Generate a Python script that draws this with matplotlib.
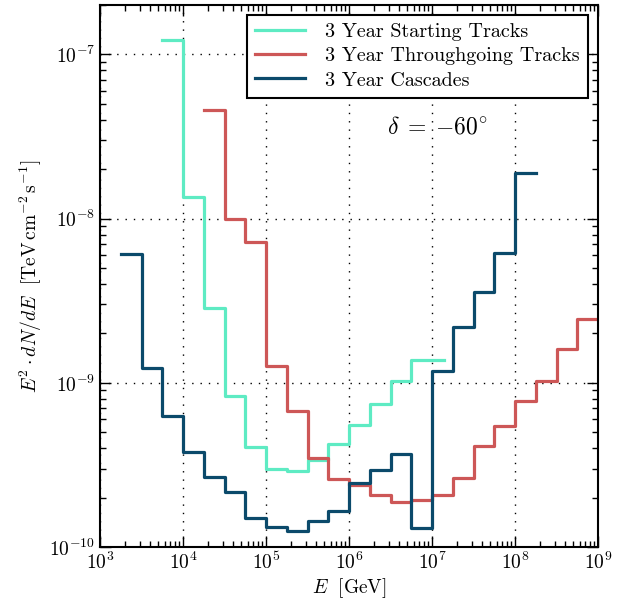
import matplotlib
matplotlib.use('Agg')
import matplotlib.pyplot as plt
import numpy as np

plt.rcParams['font.family'] = ['cmr10', 'DejaVu Serif']
plt.rcParams['mathtext.fontset'] = 'cm'
plt.rcParams['axes.formatter.use_mathtext'] = True

# bin edges (log10 GeV) and E^2 dN/dE values
start_edges = [3.75, 4.0, 4.25, 4.5, 4.75, 5.0, 5.25, 5.5, 5.75, 6.0, 6.25, 6.5, 6.75, 7.14]
start_vals = [1.22e-7, 1.35e-8, 2.87e-9, 8.3e-10, 4.09e-10, 2.98e-10, 2.90e-10,
              3.39e-10, 4.23e-10, 5.5e-10, 7.44e-10, 1.02e-9, 1.38e-9]

thru_edges = [4.25, 4.5, 4.75, 5.0, 5.25, 5.5, 5.75, 6.0, 6.25, 6.5, 6.75, 7.0,
              7.25, 7.5, 7.75, 8.0, 8.25, 8.5, 8.75, 9.0]
thru_vals = [4.58e-8, 9.94e-9, 7.18e-9, 1.27e-9, 6.75e-10, 3.46e-10, 2.59e-10,
             2.39e-10, 2.08e-10, 1.87e-10, 1.94e-10, 2.08e-10, 2.62e-10, 4.15e-10,
             5.47e-10, 7.8e-10, 1.03e-9, 1.61e-9, 2.44e-9]

casc_edges = [3.25, 3.5, 3.75, 4.0, 4.25, 4.5, 4.75, 5.0, 5.25, 5.5, 5.75, 6.0,
              6.25, 6.5, 6.75, 7.0, 7.25, 7.5, 7.75, 8.0, 8.25]
casc_vals = [6.07e-9, 1.23e-9, 6.31e-10, 3.81e-10, 2.66e-10, 2.15e-10, 1.50e-10,
             1.32e-10, 1.26e-10, 1.43e-10, 1.66e-10, 2.45e-10, 2.95e-10, 3.69e-10,
             1.30e-10, 1.18e-9, 2.2e-9, 3.56e-9, 6.15e-9, 1.90e-8]

series = [
    ('3 Year Starting Tracks', start_edges, start_vals, '#5eebc3'),
    ('3 Year Throughgoing Tracks', thru_edges, thru_vals, '#cd5757'),
    ('3 Year Cascades', casc_edges, casc_vals, '#0b4a6b'),
]

fig = plt.figure(figsize=(6.26, 6.03), dpi=100)
ax = fig.add_axes([100 / 626, 56 / 603, 498 / 626, 542 / 603])

for label, edges, vals, color in series:
    x = 10 ** np.array(edges)
    y = np.append(vals, vals[-1])
    ax.step(x, y, where='post', color=color, lw=2.3, label=label)

ax.set_xscale('log')
ax.set_yscale('log')
ax.set_xlim(1e3, 1e9)
ax.set_ylim(1e-10, 2e-7)
ax.grid(True, which='major', color='black', linestyle=(0, (1, 5)), lw=1)

ax.tick_params(which='both', direction='in', top=True, right=True, labelsize=14)
ax.tick_params(which='major', length=8, width=1)
ax.tick_params(which='minor', length=4, width=1)
for s in ax.spines.values():
    s.set_linewidth(1.5)

ax.set_xlabel(r'$E\ \ [\mathrm{GeV}]$', fontsize=14, labelpad=2)
ax.set_ylabel(r'$E^2\cdot dN/dE\ \ [\mathrm{TeV\,cm^{-2}\,s^{-1}}]$', fontsize=14)

ax.text(0.677, 0.775, r'$\delta\;=\;{-}60^{\circ}$', transform=ax.transAxes,
        fontsize=17, ha='center', va='center')

leg = ax.legend(loc='upper right', fontsize=14.5, fancybox=False, framealpha=1,
                borderaxespad=0.5, handlelength=2.5, handletextpad=1.0,
                labelspacing=0.3)
leg.get_frame().set_edgecolor('black')
leg.get_frame().set_linewidth(1.5)

fig.savefig('out.png', dpi=100)
